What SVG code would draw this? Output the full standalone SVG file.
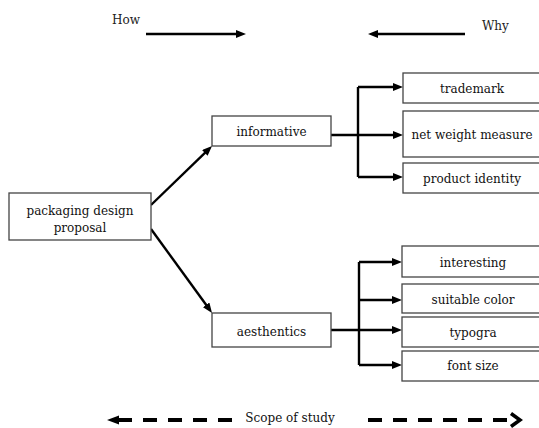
<svg xmlns="http://www.w3.org/2000/svg" width="539" height="428" viewBox="0 0 539 428">
<defs>
<marker id="ah" viewBox="0 0 10 8" markerWidth="10" markerHeight="8" refX="3" refY="4" orient="auto" markerUnits="userSpaceOnUse">
<path d="M0,0 L10,4 L0,8 z" fill="#000"/>
</marker>
<style>
.box{fill:#fff;stroke:#444;stroke-width:1.3}
.t{font-family:"DejaVu Serif","Liberation Serif",serif;font-size:12px;fill:#111;text-anchor:middle}
.h{font-family:"DejaVu Serif","Liberation Serif",serif;font-size:12px;fill:#222}
.c{fill:none;stroke:#000;stroke-width:2.4}
.d{fill:none;stroke:#000;stroke-width:4;stroke-dasharray:14 11}
</style>
</defs>
<rect width="539" height="428" fill="#fff"/>
<g id="headers">
<text class="h" x="112" y="24">How</text>
<text class="h" x="482" y="30">Why</text>
</g>
<g id="connectors">
<path class="c" d="M146,34 H239" marker-end="url(#ah)"/>
<path class="c" d="M465,34 H375" marker-end="url(#ah)"/>
<path class="c" d="M151,205 L207,150.9" marker-end="url(#ah)"/>
<path class="c" d="M151,229 L207.9,307.3" marker-end="url(#ah)"/>
<path class="c" d="M331,135 H396" marker-end="url(#ah)"/>
<path class="c" d="M358,87 V177"/>
<path class="c" d="M358,87 H396" marker-end="url(#ah)"/>
<path class="c" d="M358,177 H396" marker-end="url(#ah)"/>
<path class="c" d="M331,330 H395" marker-end="url(#ah)"/>
<path class="c" d="M359,262 V365"/>
<path class="c" d="M359,262 H395" marker-end="url(#ah)"/>
<path class="c" d="M359,300 H395" marker-end="url(#ah)"/>
<path class="c" d="M359,365 H395" marker-end="url(#ah)"/>
</g>
<g id="packaging">
<rect class="box" x="9" y="193" width="142" height="47"/>
<text class="t" x="80" y="215">packaging design</text>
<text class="t" x="80" y="232">proposal</text>
</g>
<g id="informative">
<rect class="box" x="212" y="116" width="119" height="30"/>
<text class="t" x="271.5" y="136">informative</text>
</g>
<g id="aesthetics">
<rect class="box" x="212" y="313" width="119" height="34"/>
<text class="t" x="271.5" y="336">aesthentics</text>
</g>
<g id="trademark">
<rect class="box" x="403" y="73" width="145" height="30"/>
<text class="t" x="472" y="93">trademark</text>
</g>
<g id="netweight">
<rect class="box" x="403" y="111" width="145" height="46"/>
<text class="t" x="472" y="139">net weight measure</text>
</g>
<g id="productidentity">
<rect class="box" x="403" y="163" width="145" height="30"/>
<text class="t" x="472" y="183">product identity</text>
</g>
<g id="interesting">
<rect class="box" x="402" y="246" width="146" height="31"/>
<text class="t" x="473" y="267">interesting</text>
</g>
<g id="suitablecolor">
<rect class="box" x="402" y="284" width="146" height="29"/>
<text class="t" x="473" y="304">suitable color</text>
</g>
<g id="typogra">
<rect class="box" x="402" y="317" width="146" height="30"/>
<text class="t" x="473" y="337">typogra</text>
</g>
<g id="fontsize">
<rect class="box" x="402" y="351" width="146" height="30"/>
<text class="t" x="473" y="370">font size</text>
</g>
<g id="scope">
<polygon points="107,420 119,415.5 119,424.5" fill="#000"/>
<path class="d" d="M118,420 H232"/>
<path class="d" d="M368,420 H507"/>
<polyline points="511,413.5 520,420 511,426.5" fill="none" stroke="#000" stroke-width="3.5"/>
<text class="t" x="290" y="422">Scope of study</text>
</g>
</svg>
